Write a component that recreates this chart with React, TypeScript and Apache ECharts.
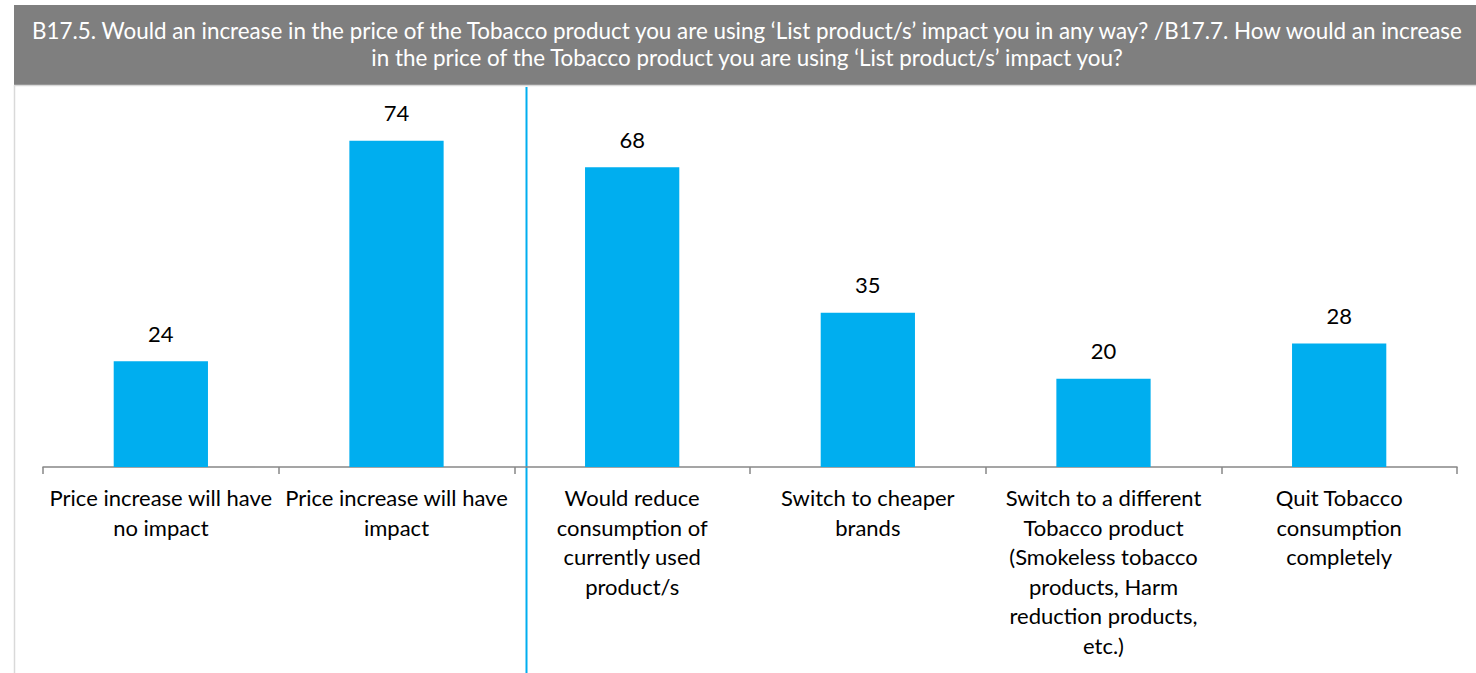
import React, { useEffect, useRef } from "react";
import * as echarts from "echarts";

const titleLines = [
  "B17.5. Would an increase in the price of the Tobacco product you are using \u2018List product/s\u2019 impact you in any way? /B17.7. How would an increase",
  "in the price of the Tobacco product you are using \u2018List product/s\u2019 impact you?",
];

const categories = [
  "Price increase will have\nno impact",
  "Price increase will have\nimpact",
  "Would reduce\nconsumption of\ncurrently used\nproduct/s",
  "Switch to cheaper\nbrands",
  "Switch to a different\nTobacco product\n(Smokeless tobacco\nproducts, Harm\nreduction products,\netc.)",
  "Quit Tobacco\nconsumption\ncompletely",
];

const values = [24, 74, 68, 35, 20, 28];

const FONT = "Lato, 'Noto Sans', sans-serif";

export default function App() {
  const ref = useRef<HTMLDivElement>(null);
  useEffect(() => {
    if (!ref.current) return;
    const chart = echarts.init(ref.current, null, { renderer: "svg" });
    chart.setOption({
      animation: false,
      backgroundColor: "#ffffff",
      textStyle: { fontFamily: FONT },
      grid: { left: 43, right: 19, top: 117, bottom: 206, containLabel: false },
      xAxis: {
        type: "category",
        data: categories,
        axisLine: { lineStyle: { color: "#878787", width: 1.5 } },
        axisTick: { show: true, length: 7, lineStyle: { color: "#878787", width: 1.5 } },
        axisLabel: {
          interval: 0,
          color: "#000000",
          fontFamily: FONT,
          fontSize: 22,
          lineHeight: 29.5,
          margin: 16,
        },
      },
      yAxis: {
        type: "value",
        min: 0,
        max: 79.4,
        show: false,
        splitLine: { show: false },
      },
      series: [
        {
          type: "bar",
          data: values,
          barWidth: "40%",
          itemStyle: { color: "#00AEEF" },
          label: {
            show: true,
            position: "top",
            distance: 17,
            color: "#000000",
            fontFamily: FONT,
            fontSize: 22,
          },
        },
      ],
      graphic: [
        {
          type: "rect",
          shape: { x: 14, y: 5, width: 1462, height: 80 },
          style: { fill: "#7f7f7f" },
          silent: true,
        },
        {
          type: "text",
          x: 747,
          y: 44,
          style: {
            text: titleLines.join("\n"),
            fill: "#ffffff",
            font: `22.4px ${FONT}`,
            textAlign: "center",
            textVerticalAlign: "middle",
            lineHeight: 27,
          },
          silent: true,
        },
        {
          type: "line",
          shape: { x1: 14, y1: 85.5, x2: 1476, y2: 85.5 },
          style: { stroke: "#d9d9d9", lineWidth: 1.5 },
          silent: true,
        },
        {
          type: "line",
          shape: { x1: 14.5, y1: 85, x2: 14.5, y2: 673 },
          style: { stroke: "#d9d9d9", lineWidth: 1.5 },
          silent: true,
        },
        {
          type: "line",
          shape: { x1: 526.5, y1: 87, x2: 526.5, y2: 673 },
          style: { stroke: "#00AEEF", lineWidth: 2 },
          silent: true,
        },
      ],
    });
    return () => chart.dispose();
  }, []);
  return (
    <div
      ref={ref}
      style={{ position: "fixed", left: 0, top: 0, width: 1476, height: 673 }}
    />
  );
}
